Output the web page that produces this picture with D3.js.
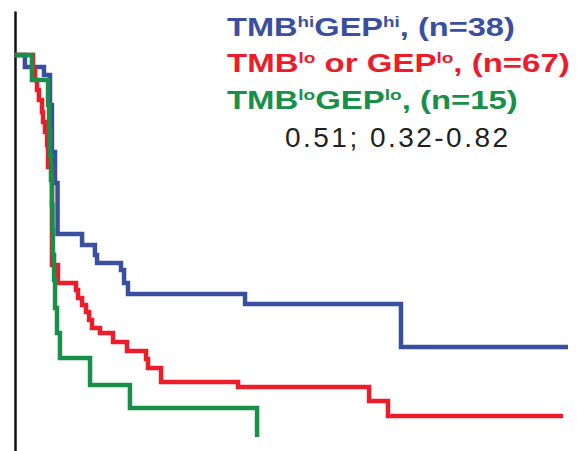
<!DOCTYPE html>
<html>
<head>
<meta charset="utf-8">
<script src="https://cdn.jsdelivr.net/npm/d3@7"></script>
<style>
  body { margin: 0; background: #fff; }
  svg { display: block; }
</style>
</head>
<body>
<script>
/* --------------------------------------------------------------------------------- */
// event times (months) and survival after each event
var hi_times  = [0.71, 2.07, 2.5, 2.64, 2.86, 3.04, 4.79, 5.71, 5.86, 7.57, 7.79, 8.07, 16.43, 27.57];
var hi_surv   = [0.97, 0.95, 0.875, 0.7575, 0.68, 0.5525, 0.525, 0.5, 0.48, 0.4625, 0.43, 0.4025, 0.3775, 0.27];
var hi_end    = 39.5;

var mix_times = [1.29, 1.43, 1.57, 1.71, 1.93, 2.0, 2.14, 2.29, 2.36, 2.64, 3.07, 4.36, 4.5, 4.79, 5.07, 5.29, 5.5,
                 6.07, 7.0, 8.0, 9.36, 9.5, 10.43, 15.93, 25.29, 26.64];
var mix_surv  = [0.9625, 0.9375, 0.9125, 0.8875, 0.8575, 0.8325, 0.8075, 0.775, 0.72, 0.475, 0.43, 0.4125, 0.3925,
                 0.375, 0.3575, 0.3375, 0.3175, 0.305, 0.2825, 0.26, 0.24, 0.2175, 0.1825, 0.17, 0.135, 0.0975];
var mix_end   = 39.14;

var lo_times  = [1.21, 2.36, 2.43, 2.5, 2.57, 2.64, 2.68, 2.71, 2.79, 2.86, 3.0, 3.21, 5.36, 8.21, 17.29];
var lo_surv   = [0.9375, 0.875, 0.8125, 0.75, 0.6875, 0.625, 0.5625, 0.5, 0.4375, 0.3675, 0.305, 0.2425, 0.175, 0.1175, 0.045];
var lo_end    = 17.29;

// legend lines: [text, superscript?]
var legend_hi  = [["TMB", 0], ["hi", 1], ["GEP", 0], ["hi", 1], [", (n=38)", 0]];
var legend_mix = [["TMB", 0], ["lo", 1], [" or GEP", 0], ["lo", 1], [", (n=67)", 0]];
var legend_lo  = [["TMB", 0], ["lo", 1], ["GEP", 0], ["lo", 1], [", (n=15)", 0]];
var hr_text    = "0.51; 0.32-0.82";
/* --------------------------------------------------------------------------------- */
var width = 577, height = 451;
var colors = { hi: "#3b4fa1", mix: "#ec1c2a", lo: "#18904a" };

var svg = d3.select("body").append("svg")
    .attr("width", width)
    .attr("height", height);

var x = d3.scaleLinear().domain([0, 40]).range([15, 575]);
var y = d3.scaleLinear().domain([0, 1.11]).range([455, 11]);

// ==========================================================
// y axis - just the line, no ticks
svg.append("g")
    .attr("transform", "translate(" + x(0) + ",0)")
    .call(d3.axisLeft(y).tickValues([]).tickSizeOuter(0))
    .select(".domain")
    .attr("stroke", "#111")
    .attr("stroke-width", 2.5);

// ==========================================================
// build km step points
function km_points(times, surv, end)
{
  var pts = [[0, 1]];
  for(var i = 0; i < times.length; i++)
    pts.push([times[i], surv[i]]);
  if(end > times[times.length - 1])
    pts.push([end, surv[surv.length - 1]]);
  return pts;
}

var line = d3.line()
    .x(function(d) { return x(d[0]); })
    .y(function(d) { return y(d[1]); })
    .curve(d3.curveStepAfter);

var curves = [
  { key: "hi",  pts: km_points(hi_times, hi_surv, hi_end) },
  { key: "mix", pts: km_points(mix_times, mix_surv, mix_end) },
  { key: "lo",  pts: km_points(lo_times, lo_surv, lo_end) }
];

svg.append("g")
    .selectAll("path")
    .data(curves)
    .enter()
    .append("path")
    .attr("d", function(d) { return line(d.pts); })
    .attr("fill", "none")
    .attr("stroke", function(d) { return colors[d.key]; })
    .attr("stroke-width", 4.5)
    .attr("stroke-linejoin", "miter");

// ==========================================================
// legend, stretched to the width seen in the picture
function legend_line(parts, color, lx, ly, target)
{
  var t = svg.append("text")
      .attr("font-family", "'Liberation Sans', Arial, sans-serif")
      .attr("font-weight", "bold")
      .attr("font-size", 26)
      .attr("fill", color);

  parts.forEach(function(p, i) {
    var prev = i > 0 ? parts[i - 1][1] : 0;
    var dy = 0;
    if(p[1] && !prev) dy = -9;
    if(!p[1] && prev) dy = 9;
    t.append("tspan")
      .attr("dy", dy)
      .attr("font-size", p[1] ? 15 : 26)
      .style("white-space", "pre")
      .text(p[0]);
  });

  var w = t.node().getComputedTextLength();
  t.attr("transform", "translate(" + lx + "," + ly + ") scale(" + (target / w) + ",1)");
}

legend_line(legend_hi,  colors.hi,  227, 36, 288);
legend_line(legend_mix, colors.mix, 227, 72, 343);
legend_line(legend_lo,  colors.lo,  227, 109, 291);

svg.append("text")
    .attr("x", 285)
    .attr("y", 147)
    .attr("font-family", "'Liberation Sans', Arial, sans-serif")
    .attr("font-size", 28)
    .attr("fill", "#231f20")
    .attr("textLength", 223)
    .attr("lengthAdjust", "spacing")
    .text(hr_text);
/* --------------------------------------------------------------------------------- */
</script>
</body>
</html>
